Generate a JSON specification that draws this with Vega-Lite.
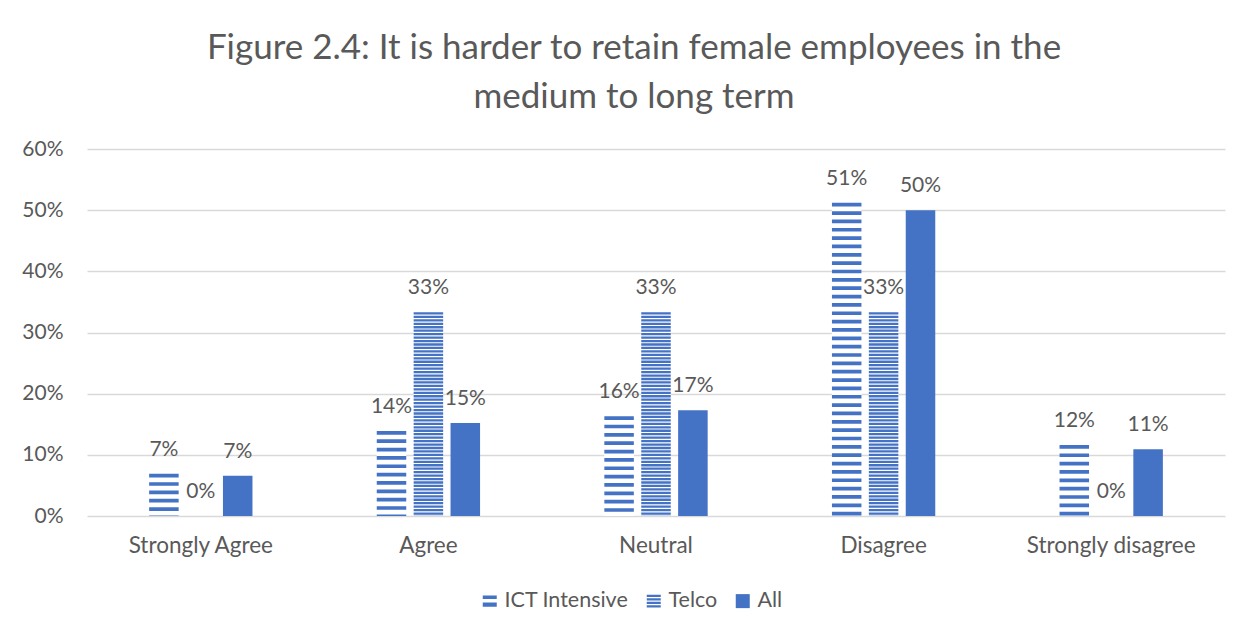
{
  "$schema": "https://vega.github.io/schema/vega-lite/v6.json",
  "width": 1138,
  "height": 367,
  "autosize": "none",
  "padding": {"left": 87, "top": 149, "right": 26, "bottom": 120},
  "background": "white",
  "config": {
    "view": {"stroke": null},
    "font": "Lato",
    "axis": {"labelFont": "Lato", "labelColor": "#595959", "labelFontSize": 20, "ticks": false, "domain": false, "title": null},
    "legend": {"symbolOpacity": 1, "symbolStrokeWidth": 0}
  },
  "title": {
    "text": ["Figure 2.4: It is harder to retain female employees in the", "medium to long term"],
    "font": "Lato",
    "fontSize": 35,
    "fontWeight": "normal",
    "color": "#595959",
    "lineHeight": 49,
    "anchor": "middle",
    "baseline": "bottom",
    "offset": -12,
    "dx": -22
  },
  "data": {
    "values": [
      {"category": "Strongly Agree", "series": "ICT Intensive", "value": 0.069},
      {"category": "Strongly Agree", "series": "Telco", "value": 0.0},
      {"category": "Strongly Agree", "series": "All", "value": 0.066},
      {"category": "Agree", "series": "ICT Intensive", "value": 0.139},
      {"category": "Agree", "series": "Telco", "value": 0.333},
      {"category": "Agree", "series": "All", "value": 0.152},
      {"category": "Neutral", "series": "ICT Intensive", "value": 0.163},
      {"category": "Neutral", "series": "Telco", "value": 0.333},
      {"category": "Neutral", "series": "All", "value": 0.173},
      {"category": "Disagree", "series": "ICT Intensive", "value": 0.512},
      {"category": "Disagree", "series": "Telco", "value": 0.333},
      {"category": "Disagree", "series": "All", "value": 0.5},
      {"category": "Strongly disagree", "series": "ICT Intensive", "value": 0.116},
      {"category": "Strongly disagree", "series": "Telco", "value": 0.0},
      {"category": "Strongly disagree", "series": "All", "value": 0.109}
    ]
  },
  "encoding": {
    "x": {
      "field": "category",
      "type": "nominal",
      "sort": ["Strongly Agree", "Agree", "Neutral", "Disagree", "Strongly disagree"],
      "scale": {"paddingInner": 0.546, "paddingOuter": 0.273},
      "axis": {"labelAngle": 0, "labelPadding": 18, "labelFontSize": 22.5, "grid": false}
    },
    "xOffset": {
      "field": "series",
      "type": "nominal",
      "sort": ["ICT Intensive", "Telco", "All"],
      "scale": {"domain": ["ICT Intensive", "Telco", "All"], "paddingInner": 0.2, "paddingOuter": 0}
    },
    "y": {
      "field": "value",
      "type": "quantitative",
      "scale": {"domain": [0, 0.6]},
      "axis": {"format": ".0%", "values": [0, 0.1, 0.2, 0.3, 0.4, 0.5, 0.6], "labelPadding": 24, "labelFontSize": 21, "grid": true, "gridColor": "#D9D9D9", "gridWidth": 1.5}
    }
  },
  "layer": [
    {
      "mark": {"type": "bar"},
      "encoding": {
        "fill": {"condition": {"test": "datum.series === 'All'", "value": "#4472C4"}, "value": "white"}
      }
    },
    {
      "mark": {"type": "point", "filled": true, "opacity": 0, "size": 10},
      "encoding": {
        "color": {
          "field": "series",
          "type": "nominal",
          "scale": {"domain": ["ICT Intensive", "Telco", "All"], "range": ["#4472C4", "#4472C4", "#4472C4"]},
          "legend": {
            "title": null,
            "orient": "none",
            "direction": "horizontal",
            "legendX": 392,
            "legendY": 441,
            "symbolSize": 196,
            "symbolOpacity": 1,
            "labelFontSize": 21.5,
            "labelFont": "Lato",
            "labelColor": "#595959",
            "labelOffset": 4,
            "columnPadding": 14
          }
        },
        "shape": {
          "field": "series",
          "type": "nominal",
          "scale": {"domain": ["ICT Intensive", "Telco", "All"], "range": ["M-1,-0.8H1V-0.3H-1Z M-1,0.2H1V0.8H-1Z", "M-1,-0.9H1V-0.6H-1Z M-1,-0.4H1V-0.1H-1Z M-1,0.1H1V0.4H-1Z M-1,0.6H1V0.9H-1Z", "M-1,-1H1V1H-1Z"]},
          "legend": {
            "title": null,
            "orient": "none",
            "direction": "horizontal",
            "legendX": 392,
            "legendY": 441,
            "symbolSize": 196,
            "symbolOpacity": 1,
            "labelFontSize": 21.5,
            "labelFont": "Lato",
            "labelColor": "#595959",
            "labelOffset": 4,
            "columnPadding": 14
          }
        }
      }
    },
    {
      "transform": [{"filter": "datum.series === 'ICT Intensive'"}],
      "mark": {"type": "rule", "strokeWidth": 29.5, "strokeDash": [3.7, 4.65], "color": "#4472C4"},
      "encoding": {"y2": {"datum": 0}}
    },
    {
      "transform": [{"filter": "datum.series === 'Telco' && datum.value > 0"}],
      "mark": {"type": "rule", "strokeWidth": 29.5, "strokeDash": [2.3, 1.15], "color": "#4472C4"},
      "encoding": {"y2": {"datum": 0}}
    },
    {
      "mark": {"type": "text", "baseline": "middle", "dy": -24, "fontSize": 21, "font": "Lato", "color": "#595959"},
      "encoding": {"text": {"field": "value", "type": "quantitative", "format": ".0%"}}
    }
  ]
}
